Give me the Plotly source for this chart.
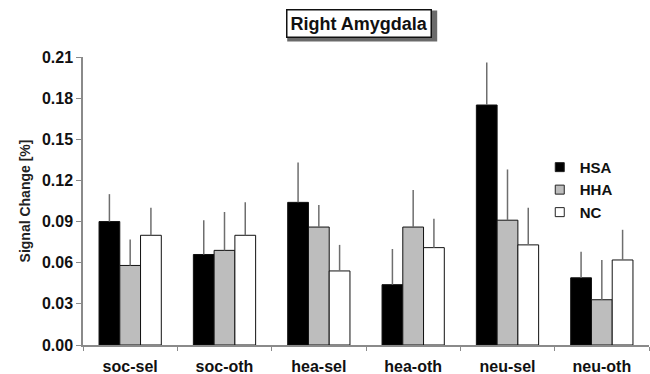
import plotly.graph_objects as go

categories = ["soc-sel", "soc-oth", "hea-sel", "hea-oth", "neu-sel", "neu-oth"]
groups = ["HSA", "HHA", "NC"]

hsa_mean = [0.090, 0.066, 0.104, 0.044, 0.175, 0.049]
hsa_err = [0.020, 0.025, 0.029, 0.026, 0.031, 0.019]
hha_mean = [0.058, 0.069, 0.086, 0.086, 0.091, 0.033]
hha_err = [0.019, 0.028, 0.016, 0.027, 0.037, 0.029]
nc_mean = [0.080, 0.080, 0.054, 0.071, 0.073, 0.062]
nc_err = [0.020, 0.024, 0.019, 0.021, 0.027, 0.022]

means = [hsa_mean, hha_mean, nc_mean]
errors = [hsa_err, hha_err, nc_err]
fills = ["#000000", "#bdbdbd", "#ffffff"]

FONT = "Liberation Sans, Arial, sans-serif"
TITLE_X = 0.488  # paper x of the boxed title centre

fig = go.Figure()
for name, m, e, c in zip(groups, means, errors, fills):
    fig.add_trace(go.Bar(
        x=categories, y=m, name=name, marker_color=c,
        marker_line=dict(color="#111111", width=1),
        error_y=dict(type="data", array=e, arrayminus=[0] * len(e),
                     symmetric=False, color="#6e6e6e", thickness=1.5, width=0),
        showlegend=False,
    ))
    # small square legend keys
    fig.add_trace(go.Scatter(
        x=[None], y=[None], mode="markers", name=f"<b>{name}</b>",
        marker=dict(symbol="square", size=9, color=c,
                    line=dict(color="#222222", width=1)),
    ))

# drop shadow behind the boxed title
fig.add_shape(type="rect", xref="paper", yref="paper",
              xsizemode="pixel", ysizemode="pixel",
              xanchor=TITLE_X, yanchor=1.116,
              x0=-72, x1=78, y0=-18, y1=13,
              fillcolor="#6a6a6a", line=dict(width=0))
fig.add_annotation(text="<b>Right Amygdala</b>", xref="paper", yref="paper",
                   x=TITLE_X, y=1.116, xanchor="center", yanchor="middle",
                   showarrow=False, borderpad=3, bgcolor="#ffffff",
                   bordercolor="#111111", borderwidth=1.5,
                   font=dict(family=FONT, size=18, color="#111111"))

fig.update_layout(
    width=650, height=374,
    margin=dict(l=83, r=1, t=57, b=29),
    paper_bgcolor="white", plot_bgcolor="white",
    barmode="group", bargap=0.34, bargroupgap=0,
    font=dict(family=FONT, color="#222222"),
    legend=dict(x=0.807, y=0.674, xanchor="left", yanchor="top",
                font=dict(family=FONT, size=15, color="#111111"),
                itemwidth=30, tracegroupgap=0, bgcolor="rgba(0,0,0,0)"),
    xaxis=dict(showline=True, linecolor="#8a8a8a", linewidth=1.5,
               ticks="outside", tickson="boundaries", ticklen=4,
               tickcolor="#8a8a8a", tickwidth=1, ticklabelstandoff=6,
               automargin=False,
               tickfont=dict(family=FONT, size=16, color="#111111"),
               tickprefix="<b>", ticksuffix="</b>", showgrid=False),
    yaxis=dict(range=[0, 0.21], dtick=0.03, tickformat=".2f",
               showline=True, linecolor="#8a8a8a", linewidth=1.5,
               ticks="outside", ticklen=5, tickcolor="#8a8a8a",
               tickfont=dict(family=FONT, size=16, color="#111111"),
               tickprefix="<b>", ticksuffix="</b>", showgrid=False,
               zeroline=False,
               title=dict(text="<b>Signal Change [%]</b>", standoff=8,
                          font=dict(family=FONT, size=14, color="#222222"))),
)

fig.write_html("out.html")
